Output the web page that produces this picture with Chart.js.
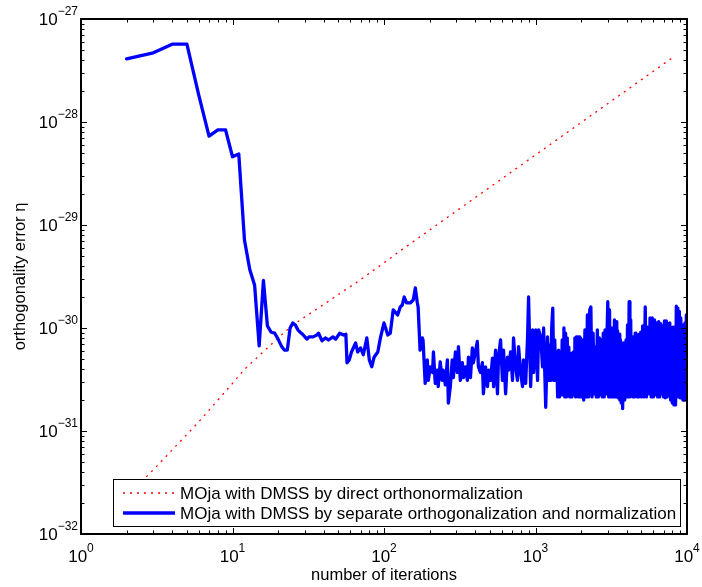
<!DOCTYPE html>
<html>
<head>
<meta charset="utf-8">
<script src="https://cdn.jsdelivr.net/npm/chart.js@4/dist/chart.umd.min.js"></script>
<style>
html,body{margin:0;padding:0;background:#fff;}
#wrap{width:702px;height:587px;position:relative;}
</style>
</head>
<body>
<div id="wrap"><canvas id="c" width="702" height="587"></canvas></div>
<script>
// ---- texts ----
const xTitle = 'number of iterations';
const yTitle = 'orthogonality error η';
const seriesNames = [
  'MOja with DMSS by direct orthonormalization',
  'MOja with DMSS by separate orthogonalization and normalization'
];
// tick labels are 10^exp
const xTickExps = [0, 1, 2, 3, 4];
const yTickExps = [-32, -31, -30, -29, -28, -27];

// ---- series 1: direct orthonormalization (red dotted) ----
const directIter = [2, 3, 6, 10, 12, 22, 26, 68, 100, 130, 8000];
const directErr  = [2.3e-32, 4.2e-32, 1.23e-31, 2.9e-31, 3.97e-31, 9.1e-31, 1.11e-30, 2.86e-30, 4.3e-30, 5.7e-30, 4.2e-28];

// ---- series 2: separate orthogonalization and normalization (blue) ----
const separateIter = [
  2,3,4,5,6,7,8,9,10,11,12,13,14,15,16,17,18,19,20,21,22,23,24,25,26,27,28,29,31,32,34,36,37,39,41,43,46,48,51,54,56,57,59,61,65,67,70,73,77,80,83,86,91,95,100,106,110,115,123,128,132,136,141,149,156,161,166,168,
  173,179,181,187,193,196,202,209,212,218,225,228,235,242,246,254,262,266,274,282,287,296,305,310,319,329,334,345,355,361,372,383,389,401,413,420,433,446,453,468,482,490,505,520,529,545,561,570,588,605,615,635,653,664,685,705,716,739,760,773,798,821,834,861,886,900,929,956,972,1003,1032,1048,1082,1113,1131,1168,
  1200,1220,1240,1260,1280,1300,1320,1340,1360,1380,1400,1420,1440,1460,1480,1500,1520,1540,1560,1580,1600,1620,1640,1660,1680,1700,1720,1740,1760,1780,1800,1820,1840,1860,1880,1900,1920,1940,1960,1980,2000,
  2040,2080,2120,2160,2200,2240,2280,2320,2360,2400,2440,2480,2520,2560,2600,2640,2680,2720,2760,2800,2840,2880,2920,2960,3000,3040,3080,3120,3160,3200,3240,3280,3320,3360,3400,3440,3480,3520,3560,3600,3640,3680,3720,3760,3800,3840,3880,3920,3960,4000,
  4050,4100,4150,4200,4250,4300,4350,4400,4450,4500,4550,4600,4650,4700,4750,4800,4850,4900,4950,5000,
  5100,5200,5300,5400,5500,5600,5700,5800,5900,6000,6100,6200,6300,6400,6500,6600,6700,6800,6900,7000,7100,7200,7300,7400,7500,7600,7700,7800,7900,8000,8100,8200,8300,8400,8500,8600,8700,8800,8900,9000,9100,9200,9300,9400,9500,9600,9700,9800,9900,10000
];
const separateErr = [
  4.1e-28,4.7e-28,5.7e-28,5.7e-28,1.8e-28,7.3e-29,8.4e-29,8.4e-29,4.6e-29,4.9e-29,7.1e-30,3.7e-30,2.6e-30,6.7e-31,2.9e-30,1.05e-30,9.1e-31,8.9e-31,7.8e-31,6.7e-31,6.1e-31,6.1e-31,1.0e-30,1.12e-30,1.07e-30,9.6e-31,9.1e-31,8.7e-31,7.8e-31,8.2e-31,8.2e-31,8.55e-31,8.9e-31,7.5e-31,8.0e-31,7.65e-31,8.2e-31,7.8e-31,8.9e-31,8.55e-31,8.7e-31,4.6e-31,4.9e-31,5.85e-31,7.15e-31,5.85e-31,6.4e-31,5.5e-31,8.0e-31,4.9e-31,4.2e-31,5.2e-31,5.85e-31,8.2e-31,1.12e-30,8.55e-31,8.9e-31,1.5e-30,1.34e-30,1.6e-30,1.67e-30,2.0e-30,1.75e-30,1.75e-30,1.87e-30,2.45e-30,1.75e-30,1.6e-30,
  6.1e-31,8.0e-31,7.65e-31,2.9e-31,4.9e-31,3.1e-31,4.2e-31,3.7e-31,5.85e-31,2.9e-31,3.9e-31,2.7e-31,4.7e-31,3.1e-31,3.9e-31,2.8e-31,4.9e-31,1.87e-31,2.7e-31,4.9e-31,3.3e-31,5.85e-31,3.7e-31,6.6e-31,3.1e-31,4.6e-31,3.3e-31,4.2e-31,3.1e-31,5.2e-31,3.3e-31,6.4e-31,4.6e-31,5.85e-31,7.4e-31,4.2e-31,3.7e-31,4.6e-31,2.3e-31,4.2e-31,2.7e-31,3.9e-31,3.1e-31,5.1e-31,2.7e-31,6.1e-31,2.3e-31,5.2e-31,7.65e-31,3.1e-31,6.1e-31,2.3e-31,5.2e-31,3.9e-31,5.85e-31,3.1e-31,8.0e-31,4.2e-31,3.1e-31,6.6e-31,3.7e-31,2.7e-31,4.9e-31,2.9e-31,8.0e-31,2.0e-30,2.7e-31,9.6e-31,3.7e-31,9.6e-31,3.1e-31,9.6e-31,8.2e-31,4.2e-31,1.0e-30,1.7e-31,
  8.2e-31,3.1e-31,6.8e-31,3.1e-31,1.02e-30,1.56e-30,3.1e-31,7.65e-31,3.1e-31,5.85e-31,2.14e-31,6.1e-31,2.14e-31,5.85e-31,2.24e-31,7.65e-31,2.24e-31,1.0e-30,2.14e-31,8.9e-31,2.14e-31,8.0e-31,2.24e-31,6.5e-31,2.14e-31,5.2e-31,2.14e-31,5.7e-31,2.34e-31,5.85e-31,2.24e-31,8.0e-31,2.14e-31,8.2e-31,2.3e-31,8.2e-31,2.14e-31,8.2e-31,2.14e-31,8.0e-31,2.14e-31,
  7.65e-31,2.0e-31,9.6e-31,2.14e-31,1.34e-30,2.14e-31,1.5e-30,1.6e-30,2.14e-31,8.9e-31,2.3e-31,6.5e-31,2.14e-31,9.6e-31,2.14e-31,8.0e-31,2.24e-31,7.65e-31,2.14e-31,8.9e-31,2.14e-31,9.6e-31,2.3e-31,7.65e-31,1.8e-30,2.14e-31,1.5e-30,2.14e-31,1.0e-30,2.14e-31,1.0e-30,2.24e-31,1.2e-30,2.14e-31,1.15e-30,2.14e-31,9.4e-31,2.1e-31,8.7e-31,2.0e-31,7.65e-31,1.87e-31,6.1e-31,1.65e-31,7.15e-31,2.0e-31,7.15e-31,2.14e-31,7.65e-31,2.14e-31,
  1.07e-30,2.14e-31,1.8e-30,2.14e-31,1.2e-30,2.24e-31,8.2e-31,2.14e-31,8.2e-31,2.14e-31,8.9e-31,2.3e-31,8.2e-31,2.14e-31,8.55e-31,2.14e-31,8.7e-31,2.24e-31,9.1e-31,2.14e-31,
  1.05e-30,2.14e-31,1.6e-30,2.14e-31,1.02e-30,2.3e-31,1.25e-30,2.14e-31,1.25e-30,2.14e-31,1.2e-30,2.24e-31,1.12e-30,2.14e-31,1.15e-30,2.14e-31,1.1e-30,2.3e-31,1.05e-30,2.14e-31,1.17e-30,2.1e-31,1.17e-30,2.14e-31,1.1e-30,2.24e-31,1.12e-30,2.0e-31,1.0e-30,1.87e-31,1.02e-30,1.79e-31,9.8e-31,1.79e-31,1.63e-30,2.14e-31,1.56e-30,2.14e-31,1.45e-30,2.1e-31,1.25e-30,2.1e-31,1.07e-30,2.0e-31,1.05e-30,2.0e-31,1.12e-30,2.14e-31,1.34e-30,2.14e-31
];

const FONT = '"Liberation Sans", Arial, Helvetica, sans-serif';

function toPoints(xs, ys){ return xs.map((x, i) => ({x: x, y: ys[i]})); }

const framePlugin = {
  id: 'matlabFrame',
  afterDraw(chart){
    const ctx = chart.ctx;
    const a = chart.chartArea;
    const xs = chart.scales.x, ys = chart.scales.y;
    ctx.save();

    // ---- legend box inside the axes ----
    const bx = a.left + 32, by = a.top + 460, bw = a.right - 7 - bx, bh = a.bottom - 8 - by;
    ctx.fillStyle = '#fff';
    ctx.fillRect(bx, by, bw, bh);
    ctx.strokeStyle = '#000';
    ctx.lineWidth = 1;
    ctx.strokeRect(bx + 0.5, by + 0.5, bw, bh);
    const dsets = chart.data.datasets;
    ctx.font = '17px ' + FONT;
    ctx.textBaseline = 'alphabetic';
    ctx.textAlign = 'left';
    for (let i = 0; i < dsets.length; i++){
      const ly = by + 14 + i * 20;
      ctx.save();
      ctx.strokeStyle = dsets[i].borderColor;
      ctx.lineWidth = dsets[i].borderWidth;
      ctx.setLineDash(dsets[i].borderDash || []);
      ctx.lineCap = 'butt';
      ctx.beginPath();
      ctx.moveTo(bx + 10, ly);
      ctx.lineTo(bx + 62, ly);
      ctx.stroke();
      ctx.restore();
      ctx.fillStyle = '#000';
      ctx.fillText(dsets[i].label, bx + 67, ly + 5.5);
    }

    // ---- ticks on all four sides (inward) ----
    ctx.strokeStyle = '#000';
    ctx.lineWidth = 1;
    ctx.beginPath();
    for (let e = xTickExps[0]; e < xTickExps[xTickExps.length - 1]; e++){
      for (let m = 1; m < 10; m++){
        const px = Math.round(xs.getPixelForValue(m * Math.pow(10, e))) + 0.5;
        const L = (m === 1) ? 6 : 3.5;
        ctx.moveTo(px, a.bottom); ctx.lineTo(px, a.bottom - L);
        ctx.moveTo(px, a.top); ctx.lineTo(px, a.top + L);
      }
    }
    for (let e = yTickExps[0]; e < yTickExps[yTickExps.length - 1]; e++){
      for (let m = 1; m < 10; m++){
        const py = Math.round(ys.getPixelForValue(m * Math.pow(10, e))) + 0.5;
        const L = (m === 1) ? 6 : 3.5;
        ctx.moveTo(a.left, py); ctx.lineTo(a.left + L, py);
        ctx.moveTo(a.right, py); ctx.lineTo(a.right - L, py);
      }
    }
    ctx.stroke();

    // ---- axes box ----
    ctx.lineWidth = 2;
    ctx.strokeRect(a.left, a.top, a.right - a.left, a.bottom - a.top);

    // ---- tick labels 10^n ----
    ctx.fillStyle = '#000';
    const baseFont = '17px ' + FONT, expFont = '12px ' + FONT;
    function expText(e){ return e < 0 ? '\u2212' + String(-e) : String(e); }
    xTickExps.forEach(e => {
      const px = xs.getPixelForValue(Math.pow(10, e));
      ctx.font = baseFont; const w1 = ctx.measureText('10').width;
      ctx.font = expFont; const w2 = ctx.measureText(expText(e)).width;
      const left = px - (w1 + w2) / 2;
      ctx.textAlign = 'left';
      ctx.font = baseFont; ctx.fillText('10', left, a.bottom + 28);
      ctx.font = expFont; ctx.fillText(expText(e), left + w1, a.bottom + 18);
    });
    yTickExps.forEach(e => {
      const py = ys.getPixelForValue(Math.pow(10, e));
      ctx.font = baseFont; const w1 = ctx.measureText('10').width;
      ctx.font = expFont; const w2 = ctx.measureText(expText(e)).width;
      const right = a.left - 3;
      ctx.textAlign = 'left';
      ctx.font = baseFont; ctx.fillText('10', right - w1 - w2, py + 6);
      ctx.font = expFont; ctx.fillText(expText(e), right - w2, py - 4);
    });

    // ---- axis titles ----
    ctx.font = '16.5px ' + FONT;
    ctx.textAlign = 'center';
    ctx.fillText(xTitle, (a.left + a.right) / 2, a.bottom + 46);
    ctx.save();
    ctx.translate(a.left - 56, (a.top + a.bottom) / 2);
    ctx.rotate(-Math.PI / 2);
    ctx.fillText(yTitle, 0, 0);
    ctx.restore();

    ctx.restore();
  }
};

new Chart(document.getElementById('c'), {
  type: 'line',
  data: {
    datasets: [
      {
        label: seriesNames[0],
        data: toPoints(directIter, directErr),
        borderColor: 'rgb(255,0,0)',
        borderWidth: 1.3,
        borderDash: [2, 5],
        pointRadius: 0,
        fill: false,
        tension: 0,
        order: 1
      },
      {
        label: seriesNames[1],
        data: toPoints(separateIter, separateErr),
        borderColor: 'rgb(0,0,255)',
        borderWidth: 3.3,
        borderJoinStyle: 'round',
        borderCapStyle: 'round',
        pointRadius: 0,
        fill: false,
        tension: 0,
        order: 0
      }
    ]
  },
  options: {
    responsive: false,
    animation: false,
    devicePixelRatio: 1,
    layout: { padding: { left: 81, right: 15, top: 19, bottom: 53 } },
    plugins: { legend: { display: false }, tooltip: { enabled: false } },
    scales: {
      x: { type: 'logarithmic', min: 1, max: 10000, display: false },
      y: { type: 'logarithmic', min: 1e-32, max: 1e-27, display: false }
    }
  },
  plugins: [framePlugin]
});
</script>
</body>
</html>
